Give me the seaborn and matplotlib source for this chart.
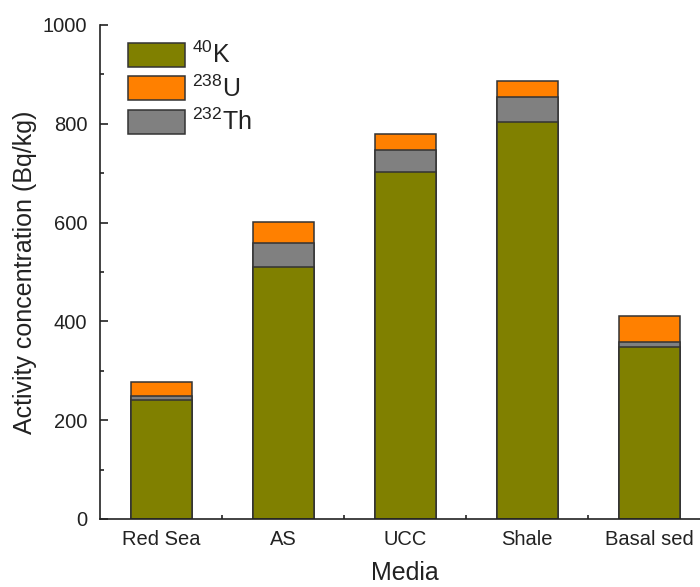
import matplotlib
matplotlib.use("Agg")
import matplotlib.pyplot as plt
from matplotlib.ticker import MultipleLocator, FixedLocator
import seaborn as sns
import pandas as pd

# Activity concentrations (Bq/kg) per medium
media = ["Red Sea", "AS", "UCC", "Shale", "Basal sed"]
k40 = [240, 511, 703, 804, 348]
th232 = [10, 48, 44, 50, 10]
u238 = [28, 43, 32, 33, 52]

colors = {"K": "#808000", "U": "#FF8000", "Th": "#808080"}
edge = "#333333"

sns.set_style("ticks")
plt.rcParams["font.family"] = ["Liberation Sans", "DejaVu Sans"]
plt.rcParams["mathtext.fontset"] = "custom"
plt.rcParams["mathtext.rm"] = "Liberation Sans"
plt.rcParams["mathtext.it"] = "Liberation Sans:italic"
plt.rcParams["mathtext.bf"] = "Liberation Sans:bold"

df = pd.DataFrame({"Media": media, "K": k40, "Th": th232, "U": u238})
df["K_Th"] = df["K"] + df["Th"]
df["total"] = df["K_Th"] + df["U"]

fig = plt.figure(figsize=(7.0, 5.87), dpi=100)
ax = fig.add_axes([100 / 700, 68 / 587, 610 / 700, 494 / 587])

# Stacked layers: draw cumulative heights from the top segment down
common = dict(data=df, x="Media", order=media, width=0.5, ax=ax,
              edgecolor=edge, linewidth=1.1, saturation=1)
sns.barplot(y="total", color=colors["U"], **common)
sns.barplot(y="K_Th", color=colors["Th"], **common)
sns.barplot(y="K", color=colors["K"], **common)

ax.set_xlim(-0.5, 4.5)
ax.set_ylim(0, 1000)
ax.yaxis.set_major_locator(MultipleLocator(200))
ax.yaxis.set_minor_locator(MultipleLocator(100))
ax.xaxis.set_minor_locator(FixedLocator([0.5, 1.5, 2.5, 3.5]))

for side in ("top", "right"):
    ax.spines[side].set_visible(False)
for side in ("left", "bottom"):
    ax.spines[side].set_color("#222222")
    ax.spines[side].set_linewidth(1.2)

ax.tick_params(axis="both", which="major", direction="in", length=6,
               width=1.2, color="#222222", labelsize=14.5, labelcolor="#222222")
ax.tick_params(axis="both", which="minor", direction="in", length=3,
               width=1.2, color="#222222")
ax.tick_params(axis="y", which="major", pad=9)
ax.tick_params(axis="x", which="major", pad=8)

ax.set_xlabel("Media", fontsize=18, color="#222222", labelpad=8.5)
ax.set_ylabel("Activity concentration (Bq/kg)", fontsize=18,
              color="#222222", labelpad=4)

handles = [
    plt.Rectangle((0, 0), 1, 1, facecolor=colors["K"], edgecolor=edge, linewidth=1.1),
    plt.Rectangle((0, 0), 1, 1, facecolor=colors["U"], edgecolor=edge, linewidth=1.1),
    plt.Rectangle((0, 0), 1, 1, facecolor=colors["Th"], edgecolor=edge, linewidth=1.1),
]
labels = [r"$^{40}$K", r"$^{238}$U", r"$^{232}$Th"]
ax.legend(handles, labels, loc="upper left",
          bbox_to_anchor=(128 / 700, 1 - 42 / 587), bbox_transform=fig.transFigure,
          frameon=False, fontsize=18, handlelength=2.28, handleheight=1.12,
          handletextpad=0.28, labelspacing=0.28, borderpad=0, borderaxespad=0,
          labelcolor="#222222")

fig.savefig("out.png", dpi=100)
